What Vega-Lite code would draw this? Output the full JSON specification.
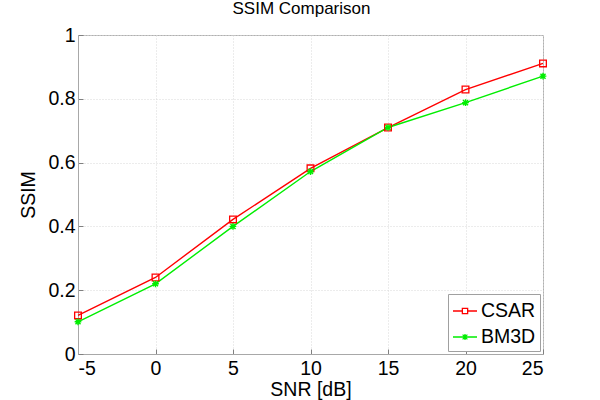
{
  "$schema": "https://vega.github.io/schema/vega-lite/v6.json",
  "width": 465,
  "height": 319,
  "autosize": {"type": "none"},
  "padding": {"left": 78, "top": 35, "right": 57, "bottom": 46},
  "background": "white",
  "title": {
    "text": "SSIM Comparison",
    "fontSize": 17,
    "fontWeight": "normal",
    "font": "Liberation Sans",
    "color": "black",
    "offset": 7,
    "dx": -9
  },
  "data": {
    "values": [
      {"snr": -5, "ssim": 0.121, "method": "CSAR"},
      {"snr": 0, "ssim": 0.240, "method": "CSAR"},
      {"snr": 5, "ssim": 0.422, "method": "CSAR"},
      {"snr": 10, "ssim": 0.582, "method": "CSAR"},
      {"snr": 15, "ssim": 0.710, "method": "CSAR"},
      {"snr": 20, "ssim": 0.829, "method": "CSAR"},
      {"snr": 25, "ssim": 0.911, "method": "CSAR"},
      {"snr": -5, "ssim": 0.101, "method": "BM3D"},
      {"snr": 0, "ssim": 0.220, "method": "BM3D"},
      {"snr": 5, "ssim": 0.400, "method": "BM3D"},
      {"snr": 10, "ssim": 0.572, "method": "BM3D"},
      {"snr": 15, "ssim": 0.710, "method": "BM3D"},
      {"snr": 20, "ssim": 0.788, "method": "BM3D"},
      {"snr": 25, "ssim": 0.871, "method": "BM3D"}
    ]
  },
  "encoding": {
    "x": {
      "field": "snr",
      "type": "quantitative",
      "title": "SNR [dB]",
      "scale": {"domain": [-5, 25], "nice": false, "zero": false},
      "axis": {"values": [-5, 0, 5, 10, 15, 20, 25], "labelExpr": "'' + datum.value", "titlePadding": 3, "labelPadding": 10}
    },
    "y": {
      "field": "ssim",
      "type": "quantitative",
      "title": "SSIM",
      "scale": {"domain": [0, 1], "nice": false},
      "axis": {"values": [0, 0.2, 0.4, 0.6, 0.8, 1], "labelExpr": "'' + datum.value", "titlePadding": 9, "labelPadding": 8}
    }
  },
  "layer": [
    {
      "mark": {"type": "line", "strokeWidth": 1.4},
      "encoding": {
        "stroke": {
          "field": "method",
          "type": "nominal",
          "scale": {"domain": ["CSAR", "BM3D"], "range": ["#ff0000", "#00ee00"]},
          "legend": {
            "title": null,
            "orient": "bottom-right",
            "offset": 3,
            "strokeColor": "#a0a0a0",
            "fillColor": "white",
            "padding": 4,
            "rowPadding": 3,
            "labelFontSize": 19.5,
            "labelFont": "Liberation Sans",
            "labelColor": "black",
            "labelOffset": 3,
            "symbolSize": 576,
            "symbolStrokeWidth": 1.3,
            "encode": {
              "symbols": {
                "update": {
                  "shape": {"signal": "datum.value === 'CSAR' ? 'M-1,0H-0.22M0.22,0H1M-0.22,-0.22H0.22V0.22H-0.22Z' : 'M-1,0H1M0,-0.25V0.25M-0.2,-0.2L0.2,0.2M-0.2,0.2L0.2,-0.2'"},
                  "fill": {"value": "transparent"}
                }
              }
            }
          }
        }
      }
    },
    {
      "transform": [{"filter": "datum.method === 'CSAR'"}],
      "mark": {"type": "point", "filled": false, "strokeWidth": 1.3, "opacity": 1, "shape": "square", "color": "#ff0000", "size": 45}
    },
    {
      "transform": [{"filter": "datum.method === 'BM3D'"}],
      "mark": {"type": "point", "filled": false, "strokeWidth": 1.4, "opacity": 1, "shape": "M0,-1V1M-1,0H1M-0.75,-0.75L0.75,0.75M-0.75,0.75L0.75,-0.75", "color": "#00ee00", "size": 45}
    }
  ],
  "config": {
    "font": "Liberation Sans",
    "view": {"stroke": "#b0b0b0", "strokeWidth": 1},
    "axis": {
      "labelFontSize": 19.5,
      "titleFontSize": 19.5,
      "titleFontWeight": "normal",
      "labelColor": "black",
      "titleColor": "black",
      "domainColor": "#a8a8a8",
      "tickColor": "#808080",
      "tickSize": -5,
      "gridColor": "#d8d8d8",
      "gridDash": [1, 2],
      "labelFont": "Liberation Sans",
      "titleFont": "Liberation Sans"
    }
  }
}
